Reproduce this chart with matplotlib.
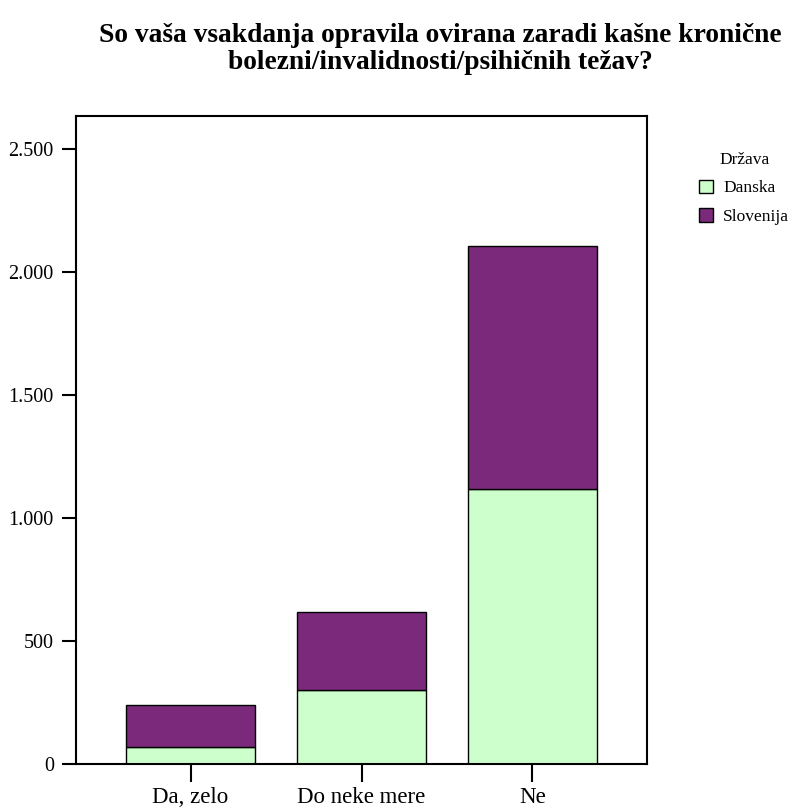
import matplotlib
matplotlib.use("Agg")
import matplotlib.pyplot as plt
from matplotlib.ticker import FuncFormatter, FixedLocator
import numpy as np

categories = ["Da, zelo", "Do neke mere", "Ne"]
danska = [72, 302, 1118]
slovenija = [169, 316, 989]
series_names = ["Danska", "Slovenija"]
colors = ["#CCFFCC", "#7B2A7B"]
yticks = [0, 500, 1000, 1500, 2000, 2500]
title = "So vaša vsakdanja opravila ovirana zaradi kašne kronične\nbolezni/invalidnosti/psihičnih težav?"

plt.rcParams["font.family"] = ["Liberation Serif", "DejaVu Serif"]

fig = plt.figure(figsize=(7.9, 8.11), dpi=100)
ax = fig.add_axes([76/790, 1-764.3/811, (647-76)/790, (764.3-116)/811])

x = np.arange(len(categories))
b1 = ax.bar(x, danska, width=0.75, color=colors[0], edgecolor="black", linewidth=1.0, label=series_names[0])
b2 = ax.bar(x, slovenija, width=0.75, bottom=danska, color=colors[1], edgecolor="black", linewidth=1.0, label=series_names[1])

ax.set_xlim(-0.67, 2.67)
ax.set_ylim(0, 2635)
ax.set_xticks(x)
ax.set_xticklabels(categories, fontsize=16.5)
ax.yaxis.set_major_locator(FixedLocator(yticks))
ax.yaxis.set_major_formatter(FuncFormatter(lambda v, p: f"{int(v):,}".replace(",", ".")))
ax.tick_params(axis="y", length=10, width=1.5, pad=6, labelsize=14.5, direction="out")
ax.tick_params(axis="x", length=13, width=1.5, pad=3, direction="out")
for s in ax.spines.values():
    s.set_linewidth(1.5)

fig.text(440/790, 1-23/811, title, ha="center", va="top", fontsize=19.8, fontweight="bold", linespacing=1.12)

leg = fig.legend(handles=[b1, b2], labels=series_names, title="Država",
                 loc="upper left", bbox_to_anchor=(699/790, 1-152/811),
                 frameon=False, fontsize=12.5, title_fontsize=12.5,
                 handlelength=0.8, handleheight=0.8, handletextpad=0.6,
                 labelspacing=0.68, borderpad=0, borderaxespad=0)

fig.savefig("out.png", dpi=100)
